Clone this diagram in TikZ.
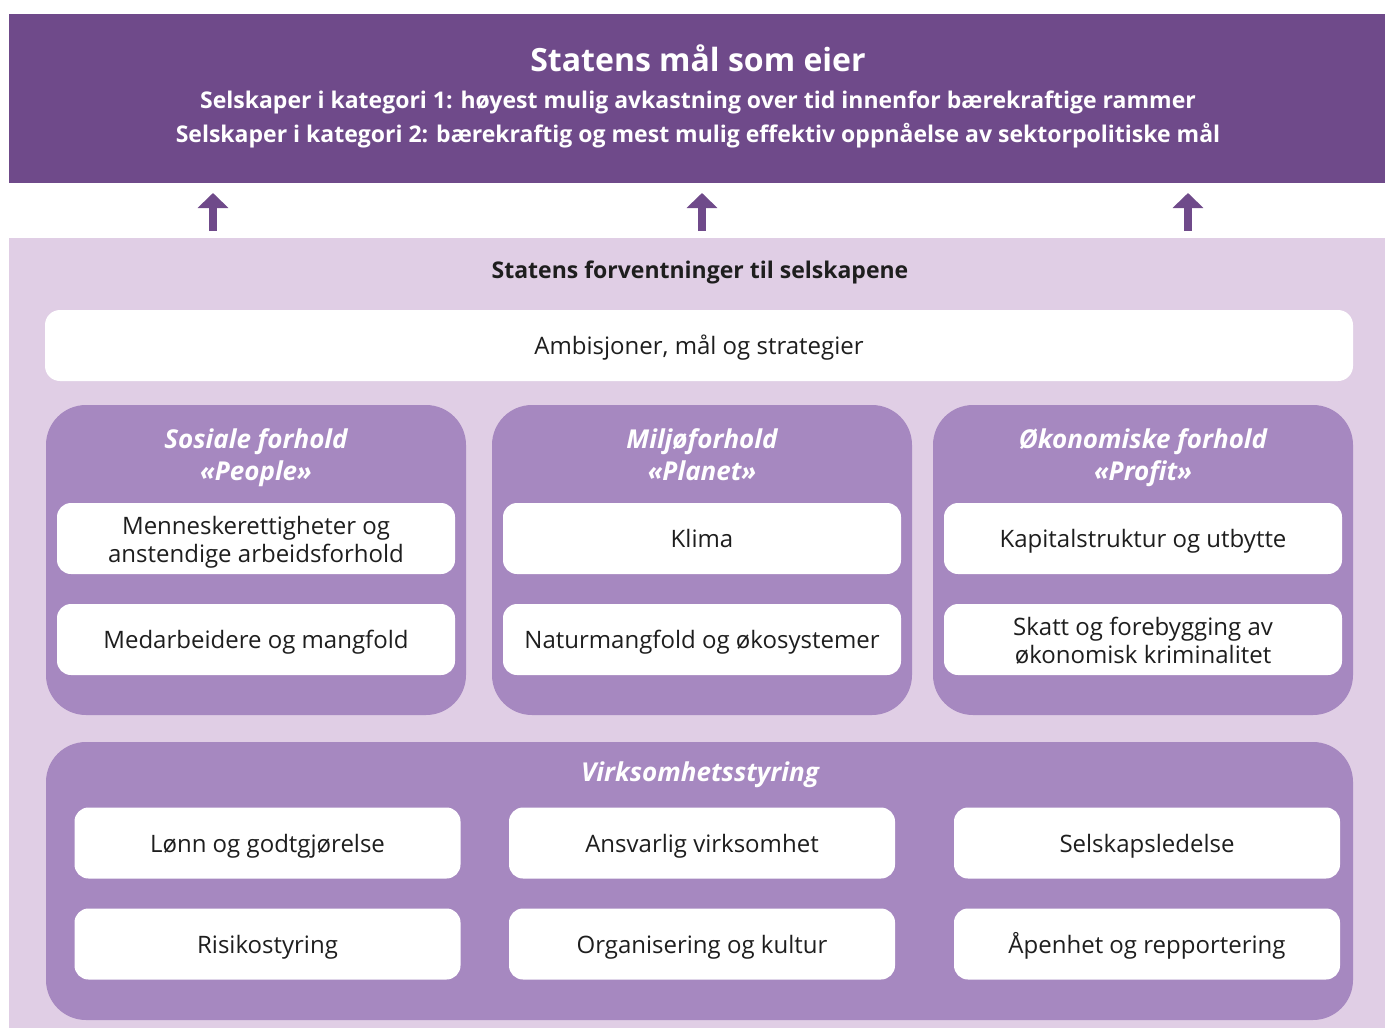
\documentclass[tikz,border=0pt]{standalone}
\usepackage{fontspec}
\setmainfont{Open Sans}
\usetikzlibrary{arrows.meta}
\definecolor{eierdark}{HTML}{6F4A8A}
\definecolor{eiermid}{HTML}{A688C0}
\definecolor{eierlight}{HTML}{E0CEE5}
\definecolor{eiertext}{HTML}{1E1E1E}
\newcommand\toprule{\rule{0pt}{27.4pt}}
\begin{document}
\begin{tikzpicture}[x=1pt, y=-1pt,
  every node/.style={inner sep=0pt, outer sep=0pt},
  band/.style={rectangle, minimum width=#1},
  group/.style={fill=eiermid, rounded corners=40pt, minimum width=#1},
  item/.style={fill=white, rounded corners=14pt, minimum width=#1, minimum height=71pt,
    align=center, text=eiertext, font=\fontsize{24}{28}\selectfont,
    execute at begin node={\rule{0pt}{26.4pt}},
    execute at end node={\rule[-8.4pt]{0pt}{8.4pt}}},
  head/.style={text=white, align=center, font=\fontsize{26}{32}\selectfont\bfseries\itshape,
    execute at begin node={\rule{0pt}{38.4pt}},
    execute at end node={\rule[-9.6pt]{0pt}{9.6pt}}},
  uparrow/.style={eierdark, line width=8pt, -{Triangle[width=30pt, length=15pt]},
    shorten <=7pt, shorten >=10pt}]
  \useasboundingbox (0,0) rectangle (1385,1028);

  % top band
  \node[band=1376pt, fill=eierdark, minimum height=169pt] (top) at (697,98.5) {};
  \node[text=white, font=\fontsize{32}{38}\selectfont\bfseries] (title) at (698,58) {Statens mål som eier};
  \node[text=white, font=\fontsize{23}{28}\selectfont\bfseries] (kat1) at (698,102)
    {Selskaper i kategori 1: høyest mulig avkastning over tid innenfor bærekraftige rammer};
  \node[text=white, font=\fontsize{23}{28}\selectfont\bfseries] (kat2) at (698,136)
    {Selskaper i kategori 2: bærekraftig og mest mulig effektiv oppnåelse av sektorpolitiske mål};

  % expectations panel
  \node[band=1376pt, fill=eierlight, minimum height=790pt] (panel) at (697,633) {};
  \node[text=eiertext, font=\fontsize{23}{28}\selectfont\bfseries] (forv) at (700,272)
    {Statens forventninger til selskapene};

  \coordinate (a1) at (213,0);
  \coordinate (a2) at (702,0);
  \coordinate (a3) at (1188,0);
  \foreach \a in {a1,a2,a3}
    \draw[uparrow] (panel.north -| \a) -- (top.south -| \a);

  \node[item=1308pt, rounded corners=15pt] (amb) at (699,345.5) {Ambisjoner, mål og strategier};

  % three columns
  \node[group=420pt, minimum height=310pt] (people) at (256,560) {};
  \node[group=420pt, minimum height=310pt] (planet) at (702,560) {};
  \node[group=420pt, minimum height=310pt] (profit) at (1143,560) {};

  \node[head] (peopleh) at (256,459) {Sosiale forhold\\«People»};
  \node[head] (planeth) at (702,459) {Miljøforhold\\«Planet»};
  \node[head] (profith) at (1143,459) {Økonomiske forhold\\«Profit»};

  \node[item=398pt] (rett) at (256,538.5) {\toprule Menneskerettigheter og\\anstendige arbeidsforhold};
  \node[item=398pt] (medarb) at (256,639.5) {Medarbeidere og mangfold};
  \node[item=398pt] (klima) at (702,538.5) {Klima};
  \node[item=398pt] (natur) at (702,639.5) {Naturmangfold og økosystemer};
  \node[item=398pt] (kapital) at (1143,538.5) {Kapitalstruktur og utbytte};
  \node[item=398pt] (skatt) at (1143,639.5) {\toprule Skatt og forebygging av\\økonomisk kriminalitet};

  % governance
  \node[group=1307pt, minimum height=278pt] (styring) at (699.5,881) {};
  \node[head] (styringh) at (700,767) {Virksomhetsstyring};

  \node[item=386pt] (lonn) at (267.5,843) {Lønn og godtgjørelse};
  \node[item=386pt] (ansvar) at (702,843) {Ansvarlig virksomhet};
  \node[item=386pt] (ledelse) at (1147,843) {Selskapsledelse};
  \node[item=386pt] (risiko) at (267.5,944) {Risikostyring};
  \node[item=386pt] (kultur) at (702,944) {Organisering og kultur};
  \node[item=386pt] (apenhet) at (1147,944) {Åpenhet og repportering};
\end{tikzpicture}
\end{document}
